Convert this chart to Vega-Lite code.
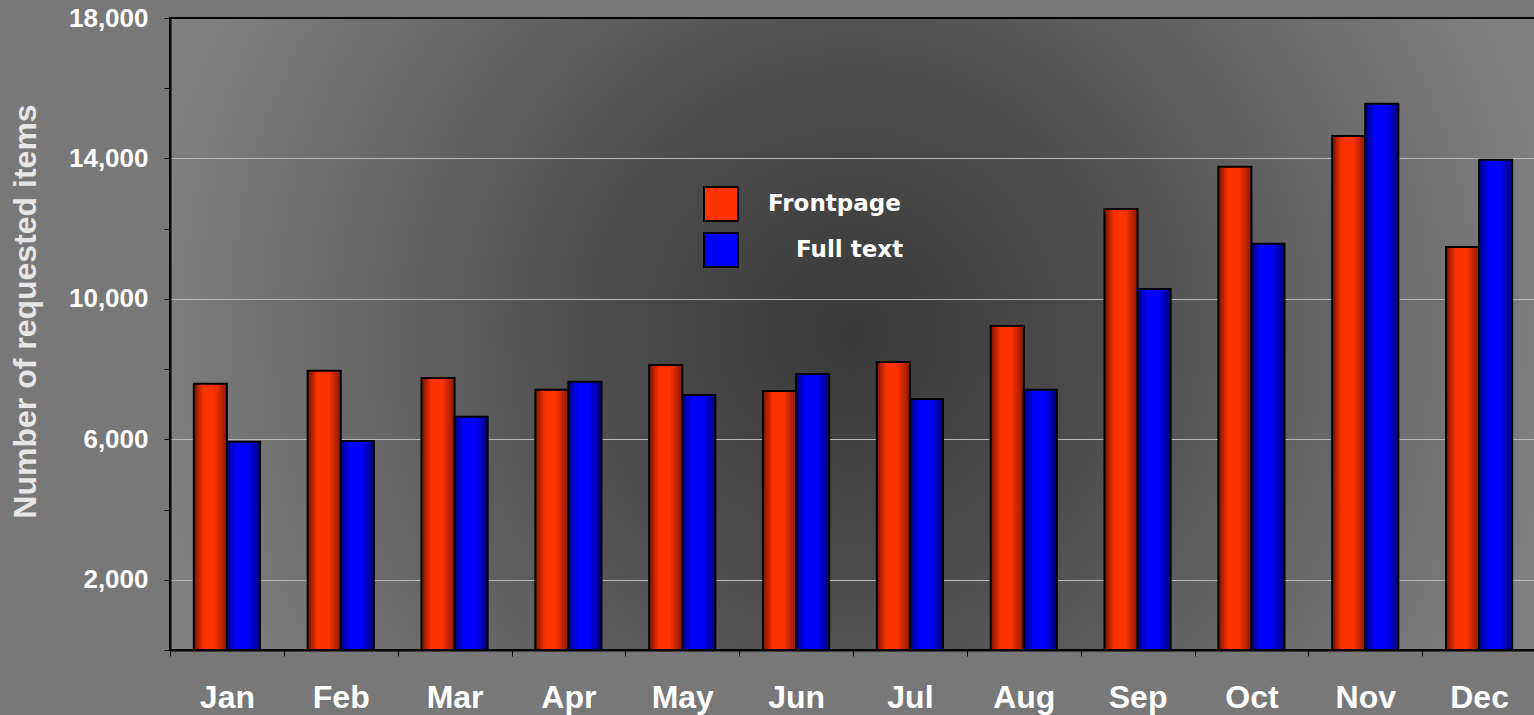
{
  "$schema": "https://vega.github.io/schema/vega-lite/v6.json",
  "width": 1366,
  "height": 632,
  "autosize": {"type": "none"},
  "padding": {"left": 170, "top": 18, "right": 0, "bottom": 65},
  "background": "#787878",
  "config": {
    "font": "Liberation Sans",
    "view": {
      "fill": {"gradient": "radial", "x1": 0.5, "y1": 0.5, "r1": 0, "x2": 0.5, "y2": 0.5, "r2": 0.52,
        "stops": [{"offset": 0, "color": "#3a3a3a"}, {"offset": 0.35, "color": "#4c4c4c"}, {"offset": 0.75, "color": "#6c6c6c"}, {"offset": 1, "color": "#808080"}]},
      "stroke": "#000000",
      "strokeWidth": 2
    }
  },
  "data": {
    "values": [
      {"month": "Jan", "series": "Frontpage", "value": 7580},
      {"month": "Jan", "series": "Full text", "value": 5930},
      {"month": "Feb", "series": "Frontpage", "value": 7950},
      {"month": "Feb", "series": "Full text", "value": 5950},
      {"month": "Mar", "series": "Frontpage", "value": 7750},
      {"month": "Mar", "series": "Full text", "value": 6640},
      {"month": "Apr", "series": "Frontpage", "value": 7410},
      {"month": "Apr", "series": "Full text", "value": 7640},
      {"month": "May", "series": "Frontpage", "value": 8120},
      {"month": "May", "series": "Full text", "value": 7260},
      {"month": "Jun", "series": "Frontpage", "value": 7380},
      {"month": "Jun", "series": "Full text", "value": 7860},
      {"month": "Jul", "series": "Frontpage", "value": 8200},
      {"month": "Jul", "series": "Full text", "value": 7150},
      {"month": "Aug", "series": "Frontpage", "value": 9230},
      {"month": "Aug", "series": "Full text", "value": 7410},
      {"month": "Sep", "series": "Frontpage", "value": 12560},
      {"month": "Sep", "series": "Full text", "value": 10280},
      {"month": "Oct", "series": "Frontpage", "value": 13760},
      {"month": "Oct", "series": "Full text", "value": 11570},
      {"month": "Nov", "series": "Frontpage", "value": 14640},
      {"month": "Nov", "series": "Full text", "value": 15560},
      {"month": "Dec", "series": "Frontpage", "value": 11480},
      {"month": "Dec", "series": "Full text", "value": 13960}
    ]
  },
  "encoding": {
    "x": {
      "field": "month", "type": "nominal",
      "sort": ["Jan","Feb","Mar","Apr","May","Jun","Jul","Aug","Sep","Oct","Nov","Dec"],
      "scale": {"paddingInner": 0, "paddingOuter": 0},
      "axis": {
        "title": null, "labelAngle": 0, "tickBand": "extent",
        "labelFont": "Liberation Sans", "labelFontWeight": "bold", "labelFontSize": 32, "labelColor": "#ffffff",
        "labelPadding": 26, "tickSize": 6, "tickColor": "#000000", "tickWidth": 1,
        "domainColor": "#000000", "domainWidth": 2, "grid": false
      }
    },
    "xOffset": {
      "field": "series", "type": "nominal",
      "scale": {"paddingInner": 0, "paddingOuter": 0.72}
    },
    "y": {
      "field": "value", "type": "quantitative",
      "scale": {"domain": [0, 18000], "nice": false},
      "axis": {
        "title": "Number of requested items",
        "titleFont": "Liberation Sans", "titleFontSize": 32, "titleFontWeight": "bold", "titleColor": "#e6e6e6",
        "titlePadding": 26, "titleY": 293,
        "values": [0, 2000, 4000, 6000, 8000, 10000, 12000, 14000, 16000, 18000],
        "labelExpr": "datum.value % 4000 == 2000 ? format(datum.value, ',') : ''",
        "labelFont": "Liberation Sans", "labelFontWeight": "bold", "labelFontSize": 26, "labelColor": "#ffffff",
        "labelPadding": 16, "tickSize": 6, "tickColor": "#000000", "tickWidth": 1,
        "domainColor": "#000000", "domainWidth": 2,
        "grid": true,
        "gridColor": "#b8b8b8",
        "gridWidth": 1,
        "gridOpacity": {"condition": {"test": "datum.value % 4000 == 2000 && datum.value < 18000", "value": 1}, "value": 0}
      }
    }
  },
  "layer": [
    {
      "mark": {"type": "bar", "stroke": "#000000", "strokeWidth": 2},
      "encoding": {
        "color": {
          "condition": {
            "test": "datum.series == 'Frontpage'",
            "value": {"gradient": "linear", "x1": 0, "y1": 0, "x2": 1, "y2": 0,
              "stops": [{"offset": 0, "color": "#741400"}, {"offset": 0.3, "color": "#ff3300"}, {"offset": 0.62, "color": "#ff3300"}, {"offset": 1, "color": "#8a1a00"}]}
          },
          "value": {"gradient": "linear", "x1": 0, "y1": 0, "x2": 1, "y2": 0,
            "stops": [{"offset": 0, "color": "#000080"}, {"offset": 0.3, "color": "#0000ff"}, {"offset": 0.62, "color": "#0000ff"}, {"offset": 1, "color": "#000078"}]}
        }
      }
    },
    {
      "mark": {"type": "bar", "opacity": 0},
      "encoding": {
        "color": {
          "field": "series", "type": "nominal",
          "scale": {"domain": ["Frontpage", "Full text"], "range": ["#ff3300", "#0000ff"]},
          "legend": {
            "title": null, "orient": "none", "legendX": 533, "legendY": 168, "padding": 0,
            "symbolType": "square", "symbolSize": 1156, "symbolStrokeColor": "#000000", "symbolStrokeWidth": 2,
            "symbolOpacity": 1,
            "labelFont": "DejaVu Sans", "labelFontWeight": "bold", "labelFontSize": 23, "labelColor": "#ffffff",
            "labelAlign": "left", "labelOffset": 29, "rowPadding": 4, "labelLimit": 300,
            "encode": {
              "labels": {
                "update": {
                  "dx": [{"test": "datum.value == 'Full text'", "value": 28}, {"value": 0}]
                }
              },
              "symbols": {
                "update": {
                  "fill": {"signal": "datum.value == 'Frontpage' ? {gradient: 'linear', x1: 0, y1: 0, x2: 1, y2: 0, stops: [{offset: 0, color: '#741400'}, {offset: 0.3, color: '#ff3300'}, {offset: 0.62, color: '#ff3300'}, {offset: 1, color: '#8a1a00'}]} : {gradient: 'linear', x1: 0, y1: 0, x2: 1, y2: 0, stops: [{offset: 0, color: '#000080'}, {offset: 0.3, color: '#0000ff'}, {offset: 0.62, color: '#0000ff'}, {offset: 1, color: '#000078'}]}"},
                  "fillOpacity": {"value": 1},
                  "stroke": {"value": "#000000"},
                  "strokeWidth": {"value": 2}
                },
                "enter": {
                  "fill": {"signal": "datum.value == 'Frontpage' ? {gradient: 'linear', x1: 0, y1: 0, x2: 1, y2: 0, stops: [{offset: 0, color: '#741400'}, {offset: 0.3, color: '#ff3300'}, {offset: 0.62, color: '#ff3300'}, {offset: 1, color: '#8a1a00'}]} : {gradient: 'linear', x1: 0, y1: 0, x2: 1, y2: 0, stops: [{offset: 0, color: '#000080'}, {offset: 0.3, color: '#0000ff'}, {offset: 0.62, color: '#0000ff'}, {offset: 1, color: '#000078'}]}"}
                }
              }
            }
          }
        }
      }
    }
  ]
}
